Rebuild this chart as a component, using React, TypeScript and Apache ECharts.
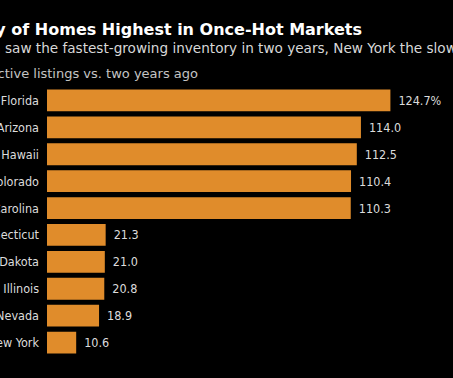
import React, { useEffect, useRef } from "react";
import * as echarts from "echarts";

const states = [
  "Florida",
  "Arizona",
  "Hawaii",
  "Colorado",
  "South Carolina",
  "Connecticut",
  "South Dakota",
  "Illinois",
  "Nevada",
  "New York",
];
const changes = [124.7, 114.0, 112.5, 110.4, 110.3, 21.3, 21.0, 20.8, 18.9, 10.6];

const titleText = "Inventory of Homes Highest in Once-Hot Markets";
const subtitleLead = "Florida ";
const subtitleText = "Florida saw the fastest-growing inventory in two years, New York the slowest";
const axisTitle = "Change in active listings vs. two years ago";

const WIDE = '"DejaVu Sans", sans-serif';
const NARROW = '"DejaVu Sans Condensed", "DejaVu Sans", sans-serif';

function measure(text: string, font: string): number {
  const c = document.createElement("canvas").getContext("2d");
  if (!c) return 0;
  c.font = font;
  return c.measureText(text).width;
}

export default function App() {
  const ref = useRef<HTMLDivElement>(null);
  useEffect(() => {
    if (!ref.current) return;
    const chart = echarts.init(ref.current, null, { renderer: "svg" });
    const subFont = `13.6px ${WIDE}`;
    const leadW = measure(subtitleLead, subFont);
    chart.setOption({
      animation: false,
      backgroundColor: "#000000",
      grid: {
        left: 47,
        top: 87,
        width: 358,
        height: 269,
        containLabel: false,
        outerBoundsMode: "none",
      },
      xAxis: {
        type: "value",
        min: 0,
        max: 130,
        show: false,
      },
      yAxis: {
        type: "category",
        data: states,
        inverse: true,
        axisLine: { show: false },
        axisTick: { show: false },
        axisLabel: {
          color: "#dcdcdc",
          fontSize: 12.5,
          fontFamily: NARROW,
          margin: 8,
        },
      },
      series: [
        {
          type: "bar",
          data: changes,
          barCategoryGap: "19%",
          itemStyle: { color: "#E08C2B" },
          label: {
            show: true,
            position: "right",
            distance: 8,
            color: "#dcdcdc",
            fontSize: 12.5,
            fontFamily: NARROW,
            formatter: (p: any) =>
              p.dataIndex === 0 ? p.value.toFixed(1) + "%" : p.value.toFixed(1),
          },
        },
      ],
      graphic: [
        {
          type: "text",
          x: 362,
          y: 29,
          style: {
            text: titleText,
            fill: "#ffffff",
            font: `bold 16px ${WIDE}`,
            textAlign: "right",
            textVerticalAlign: "middle",
          },
        },
        {
          type: "text",
          x: 5 - leadW,
          y: 47.5,
          style: {
            text: subtitleText,
            fill: "#d8d8d8",
            font: subFont,
            textAlign: "left",
            textVerticalAlign: "middle",
          },
        },
        {
          type: "text",
          x: 198,
          y: 73.5,
          style: {
            text: axisTitle,
            fill: "#c4c4c4",
            font: `13px ${WIDE}`,
            textAlign: "right",
            textVerticalAlign: "middle",
          },
        },
      ],
    });
    return () => chart.dispose();
  }, []);
  return (
    <div
      ref={ref}
      style={{
        position: "fixed",
        left: 0,
        top: 0,
        width: 453,
        height: 378,
        background: "#000",
      }}
    />
  );
}
